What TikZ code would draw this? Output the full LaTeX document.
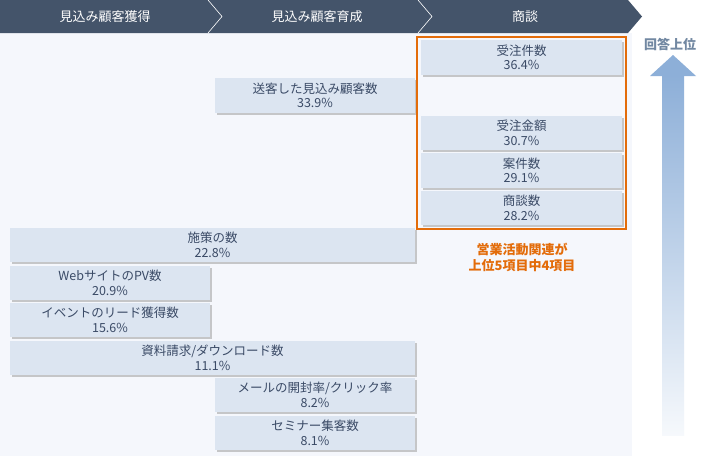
\documentclass[tikz,border=0pt]{standalone}
\usepackage{fontspec}
\setmainfont{Noto Sans CJK JP}
\usetikzlibrary{shadows}
\definecolor{hdr}{HTML}{44546A}
\definecolor{bx}{HTML}{DCE5F1}
\definecolor{txt}{HTML}{3A4A66}
\definecolor{org}{HTML}{E36C0A}
\definecolor{arr}{HTML}{8DAFD8}
\definecolor{pan}{HTML}{F5F7FC}
\begin{document}
\begin{tikzpicture}[x=1pt,y=-1pt,
 box/.style={fill=bx,draw=none,drop shadow={shadow xshift=1.5pt,shadow yshift=-1.5pt,fill=black!35,opacity=.6},text=txt,align=center,font=\fontsize{12.5}{14.5}\selectfont,inner sep=0pt},
 hd/.style={text=white,font=\fontsize{13}{15}\selectfont}]
\useasboundingbox (0,0) rectangle (712,466);
\fill[white] (0,0) rectangle (712,466);
\fill[pan] (0,33) rectangle (632,456);
\fill[hdr] (0,0) -- (628,0) -- (642,16.5) -- (628,33) -- (0,33) -- cycle;
\draw[white,line width=0.6pt] (208,0) -- (222,16.5) -- (208,33);
\draw[white,line width=0.6pt] (418,0) -- (432,16.5) -- (418,33);
\node[hd] (h1) at (105,16.5) {見込み顧客獲得};
\node[hd] (h2) at (317,16.5) {見込み顧客育成};
\node[hd] (h3) at (525,16.5) {商談};
\newcommand{\bb}[6]{\node[box,minimum width=#3-#2,minimum height=#5-#4] (#1) at ({(#2+#3)/2},{(#4+#5)/2}) {#6};}
\bb{b1}{421}{622}{40}{75}{受注件数\\36.4\%}
\bb{b2}{215}{415}{78}{113}{送客した見込み顧客数\\33.9\%}
\bb{b3}{421}{622}{116}{150}{受注金額\\30.7\%}
\bb{b4}{421}{622}{153}{188}{案件数\\29.1\%}
\bb{b5}{421}{622}{191}{225}{商談数\\28.2\%}
\bb{b6}{10}{415}{228}{262}{施策の数\\22.8\%}
\bb{b7}{10}{210}{266}{300}{WebサイトのPV数\\20.9\%}
\bb{b8}{10}{210}{303}{337}{イベントのリード獲得数\\15.6\%}
\bb{b9}{10}{415}{341}{375}{資料請求/ダウンロード数\\11.1\%}
\bb{b10}{215}{415}{378}{412}{メールの開封率/クリック率\\8.2\%}
\bb{b11}{215}{415}{416}{450}{セミナー集客数\\8.1\%}
\draw[org,line width=2pt] (417,37) rectangle (626,229);
\node[text=org,font=\bfseries\fontsize{13}{16}\selectfont,align=center] (note) at (522,257) {営業活動関連が\\上位5項目中4項目};
\shade[top color=arr,bottom color=arr!8,middle color=arr!55] (662,75) rectangle (684,435);
\fill[arr] (650,76) -- (673,55) -- (696,76) -- cycle;
\node[text=arr!70!black!90,font=\bfseries\fontsize{13}{15}\selectfont] (lbl) at (670,44) {回答上位};
\end{tikzpicture}
\end{document}
